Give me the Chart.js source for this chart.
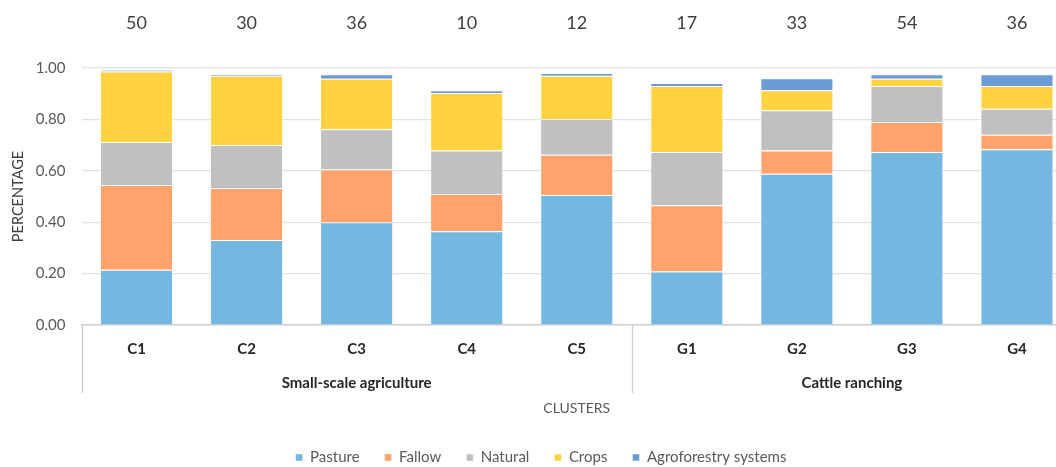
<!DOCTYPE html>
<html>
<head>
<meta charset="utf-8">
<script src="https://cdn.jsdelivr.net/npm/chart.js@4.4.1/dist/chart.umd.min.js"></script>
<style>
  html, body { margin: 0; padding: 0; background: #fff; overflow: hidden; }
  #wrap { width: 1056px; height: 467px; overflow: hidden; }
  #box { width: 1080px; height: 475px; position: relative; }
</style>
</head>
<body>
<div id="wrap"><div id="box"><canvas id="chart"></canvas></div></div>
<script>
const CLUSTERS = ["C1", "C2", "C3", "C4", "C5", "G1", "G2", "G3", "G4"];
const SAMPLE_SIZES = [50, 30, 36, 10, 12, 17, 33, 54, 36];
const GROUP_LABELS = ["Small-scale agriculture", "Cattle ranching"];
const GROUP_SIZES = [5, 4];

const PASTURE = [0.215, 0.331, 0.400, 0.365, 0.506, 0.208, 0.589, 0.673, 0.684];
const FALLOW = [0.330, 0.202, 0.205, 0.145, 0.156, 0.258, 0.090, 0.117, 0.056];
const NATURAL = [0.167, 0.167, 0.157, 0.169, 0.140, 0.207, 0.157, 0.140, 0.101];
const CROPS = [0.274, 0.270, 0.196, 0.224, 0.168, 0.257, 0.077, 0.028, 0.089];
const AGRO = [0.006, 0.006, 0.018, 0.010, 0.011, 0.012, 0.047, 0.018, 0.046];

const FONT = "Lato, 'Liberation Sans', sans-serif";
Chart.defaults.font.family = FONT;
Chart.defaults.color = "#595959";

function series(label, data, color) {
  return {
    label,
    data,
    backgroundColor: color,
    borderColor: "rgba(255,255,255,0.45)",
    borderWidth: 1,
    barPercentage: 0.664,
    categoryPercentage: 1,
  };
}

// sample sizes above the columns, group labels and separators under the axis
const extrasPlugin = {
  id: "extras",
  afterDraw(chart) {
    const { ctx, scales: { x }, chartArea } = chart;
    const step = x.getPixelForValue(1) - x.getPixelForValue(0);
    ctx.save();
    ctx.textAlign = "center";
    ctx.textBaseline = "middle";
    ctx.fillStyle = "#404040";
    ctx.font = "18px " + FONT;
    SAMPLE_SIZES.forEach((n, i) => ctx.fillText(String(n), x.getPixelForValue(i), 23));

    ctx.strokeStyle = "#D0D0D0";
    ctx.lineWidth = 1.3;
    const y0 = chartArea.bottom, y1 = 393;
    let start = 0;
    const edges = [start];
    GROUP_SIZES.forEach((size) => { start += size; edges.push(start); });
    edges.forEach((e) => {
      const px = Math.round(x.getPixelForValue(e) - step / 2) + 0.5;
      ctx.beginPath();
      ctx.moveTo(px, y0);
      ctx.lineTo(px, y1);
      ctx.stroke();
    });

    ctx.fillStyle = "#262626";
    ctx.font = "bold 15px " + FONT;
    GROUP_LABELS.forEach((label, g) => {
      const a = x.getPixelForValue(edges[g]) - step / 2;
      const b = x.getPixelForValue(edges[g + 1]) - step / 2;
      ctx.fillText(label, (a + b) / 2, 383);
    });
    ctx.restore();
  },
};

new Chart(document.getElementById("chart"), {
  type: "bar",
  data: {
    labels: CLUSTERS,
    datasets: [
      series("Pasture", PASTURE, "rgba(116, 184, 226, 1)"),
      series("Fallow", FALLOW, "rgba(255, 162, 107, 1)"),
      series("Natural", NATURAL, "rgba(192, 192, 192, 1)"),
      series("Crops", CROPS, "rgba(255, 210, 63, 1)"),
      series("Agroforestry systems", AGRO, "rgba(106, 155, 213, 1)"),
    ],
  },
  options: {
    responsive: true,
    maintainAspectRatio: false,
    animation: false,
    layout: { padding: { top: 68, right: 8, left: 10, bottom: 0 } },
    plugins: {
      legend: {
        position: "bottom",
        labels: { boxWidth: 7, boxHeight: 7, padding: 25, color: "#595959", font: { size: 15 } },
      },
      tooltip: { enabled: false },
    },
    scales: {
      x: {
        stacked: true,
        grid: { display: false },
        border: { display: true, color: "#D0D0D0", width: 1.5 },
        ticks: { color: "#262626", font: { size: 15, weight: "bold" }, padding: 7, maxRotation: 0 },
        title: { display: true, text: "CLUSTERS", color: "#595959", font: { size: 14 }, padding: { top: 0, bottom: 8 } },
        afterFit: (s) => { s.height = 100; },
      },
      y: {
        stacked: true,
        min: 0,
        max: 1,
        grid: { color: "#E2E2E2", lineWidth: 1.2, drawTicks: false },
        border: { display: false },
        ticks: { stepSize: 0.2, color: "#595959", font: { size: 15 }, padding: 16, callback: (v) => v.toFixed(2) },
        title: { display: true, text: "PERCENTAGE", color: "#404040", font: { size: 14.5 }, padding: { top: 0, bottom: 4 } },
        afterFit: (s) => { s.width = 71.5; },
      },
    },
  },
  plugins: [extrasPlugin],
});
</script>
</body>
</html>
